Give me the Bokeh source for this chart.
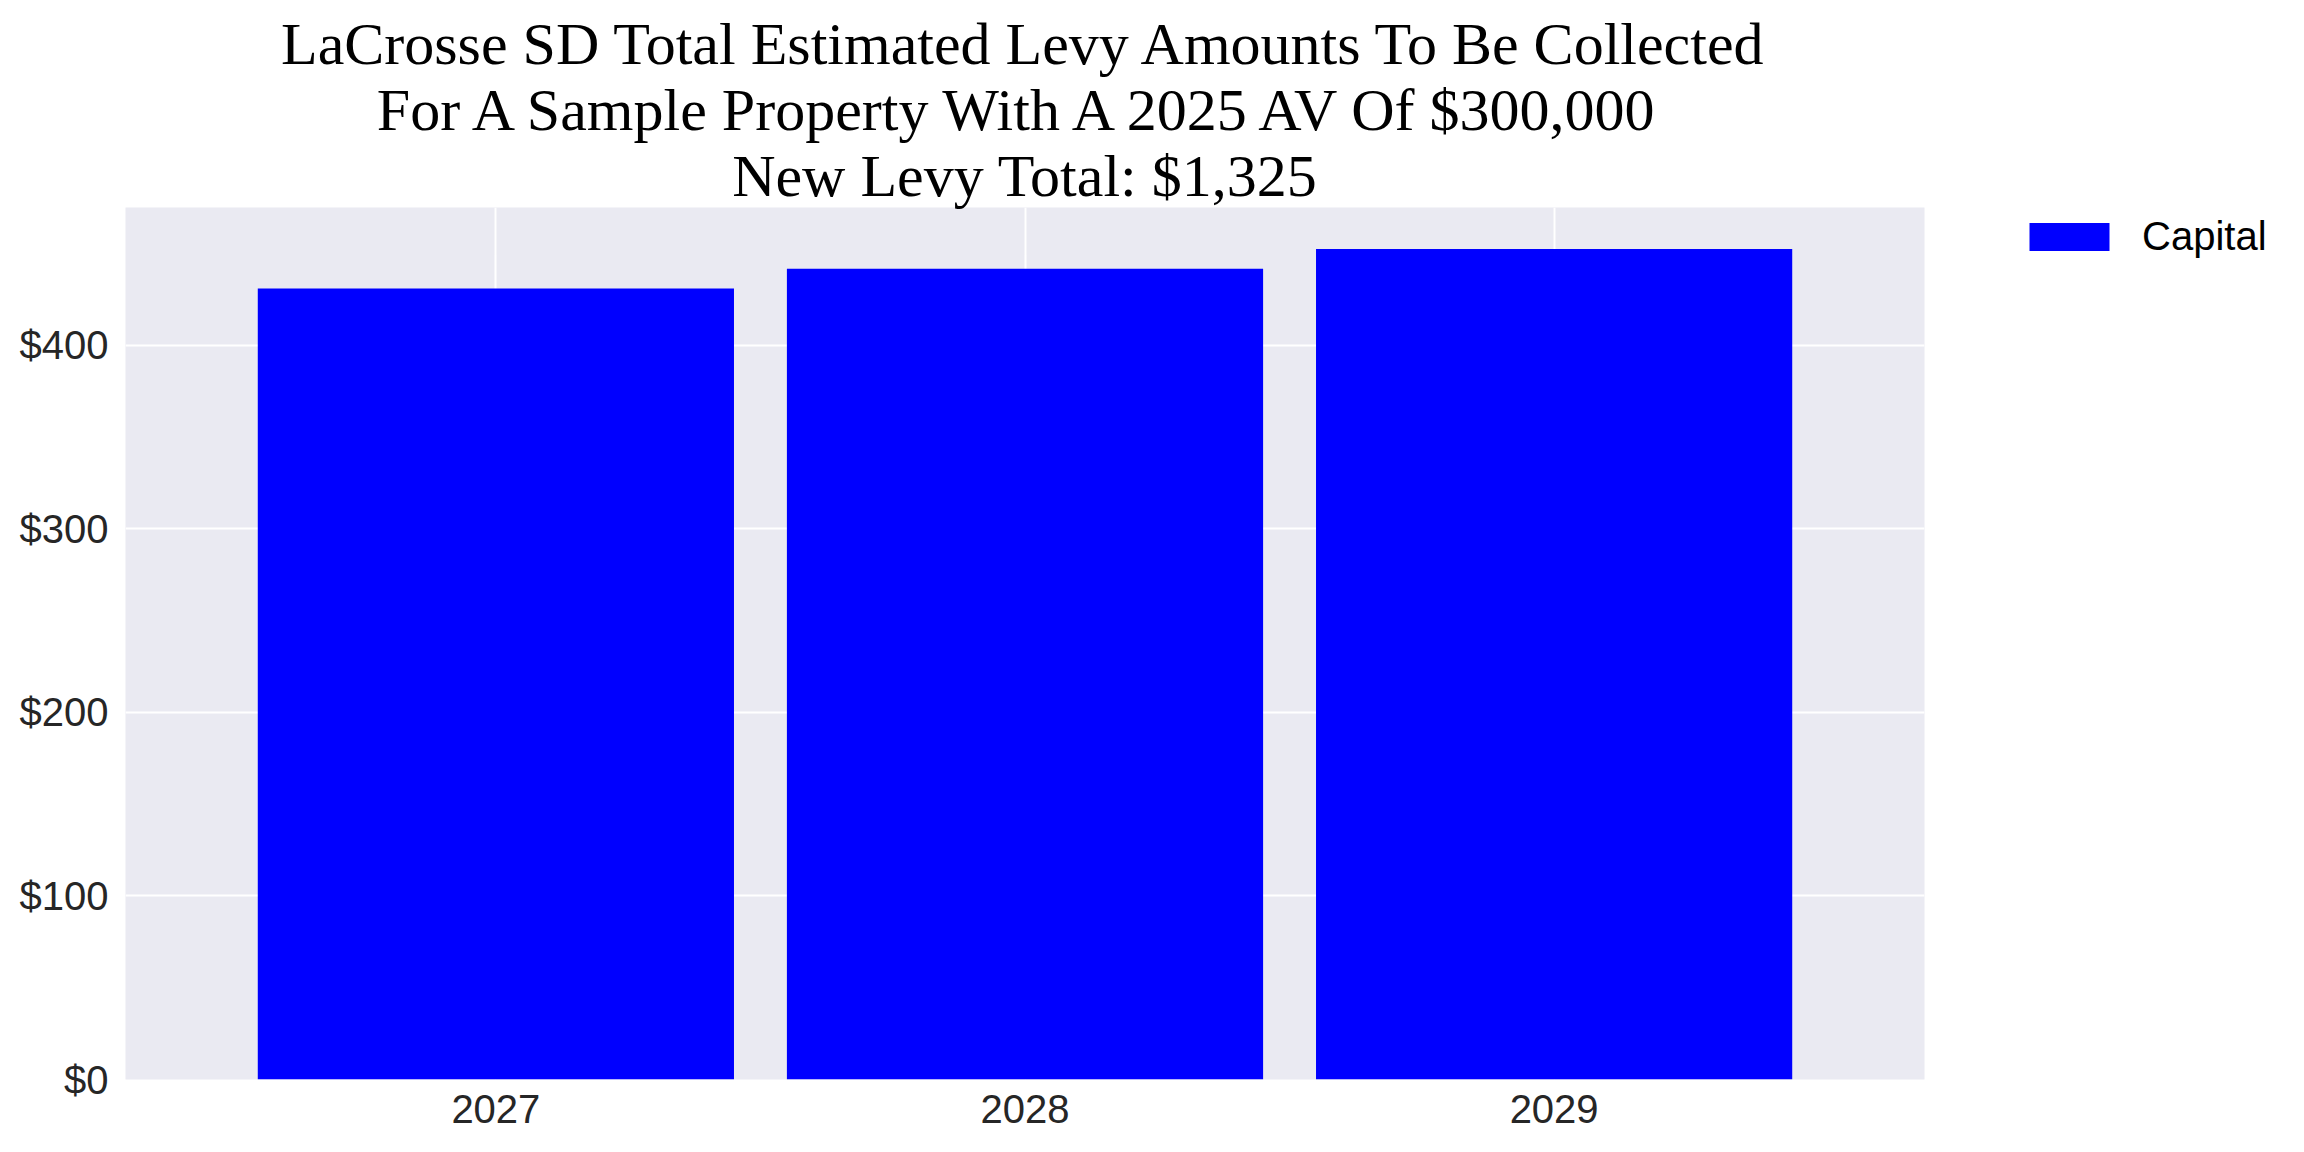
from bokeh.plotting import figure
from bokeh.models import Legend, LegendItem, FixedTicker, Range1d, Title
from bokeh.embed import file_html
from bokeh.resources import INLINE

years = ["2027", "2028", "2029"]
capital = [430.9, 441.7, 452.4]
y_ticks = [0, 100, 200, 300, 400]
y_tick_labels = ["$0", "$100", "$200", "$300", "$400"]
title_lines = [
    "LaCrosse SD Total Estimated Levy Amounts To Be Collected",
    "For A Sample Property With A 2025 AV Of $300,000",
    "New Levy Total: $1,325",
]
series_name = "Capital"

xs = list(range(len(years)))

p = figure(
    frame_width=1799, frame_height=872,
    output_backend="svg", toolbar_location=None,
    x_range=Range1d(-0.7, len(years) - 1 + 0.7),
    y_range=Range1d(0, max(capital) * 1.05),
    min_border_left=125, min_border_right=364,
    min_border_top=207, min_border_bottom=57,
)
p.title = None
p.background_fill_color = "#EAEAF2"
p.border_fill_color = "white"
p.outline_line_color = None

bars = p.vbar(x=xs, top=capital, width=0.9, fill_color="#0000FF", line_color=None)

# title lines: the one added first sits closest to the plot
for i, line in enumerate(reversed(title_lines)):
    p.add_layout(Title(
        text=line, align="center",
        text_font="Liberation Serif", text_font_size="60px",
        text_font_style="normal", text_color="black",
        standoff=-2 if i == 0 else -2.5,
    ), "above")

# axes
for ax in (p.xaxis[0], p.yaxis[0]):
    ax.axis_line_color = None
    ax.major_tick_line_color = None
    ax.minor_tick_line_color = None
    ax.major_tick_out = 0
    ax.major_tick_in = 0
    ax.major_label_text_font = "Liberation Sans"
    ax.major_label_text_font_size = "40px"
    ax.major_label_text_color = "#262626"

p.xaxis.ticker = FixedTicker(ticks=xs)
p.xaxis.major_label_overrides = {i: y for i, y in zip(xs, years)}
p.xaxis.major_label_standoff = 15
p.yaxis.ticker = FixedTicker(ticks=y_ticks)
p.yaxis.major_label_overrides = {t: l for t, l in zip(y_ticks, y_tick_labels)}
p.yaxis.major_label_standoff = 17

# grids
p.xgrid.grid_line_color = "white"
p.xgrid.grid_line_width = 2
p.ygrid.grid_line_color = "white"
p.ygrid.grid_line_width = 2

# legend in the right-hand panel
legend = Legend(
    items=[LegendItem(label=series_name, renderers=[bars])],
    location=(95, 820),
    orientation="vertical",
    margin=0, padding=0,
    border_line_color=None,
    background_fill_alpha=0,
    glyph_width=100, glyph_height=35,
    label_height=35,
    label_standoff=23,
    label_text_font="Liberation Sans",
    label_text_font_size="40px",
    label_text_color="black",
)
p.add_layout(legend, "right")

open("out.html", "w").write(file_html(p, INLINE))
